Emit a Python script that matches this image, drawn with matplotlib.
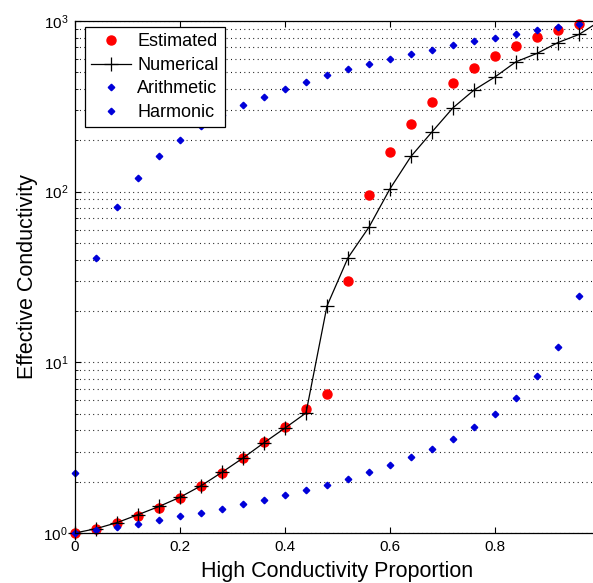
import matplotlib
matplotlib.use('Agg')
import matplotlib.pyplot as plt
from matplotlib.ticker import LogLocator, FixedLocator, NullFormatter

plt.rcParams['font.family'] = ['Liberation Sans', 'DejaVu Sans']
plt.rcParams['mathtext.fontset'] = 'custom'
plt.rcParams['mathtext.rm'] = 'Liberation Sans'
plt.rcParams['mathtext.it'] = 'Liberation Sans:italic'
plt.rcParams['mathtext.default'] = 'regular'

# proportion of high-conductivity material
proportion = [0.00, 0.04, 0.08, 0.12, 0.16, 0.20, 0.24, 0.28, 0.32, 0.36, 0.40, 0.44,
              0.48, 0.52, 0.56, 0.60, 0.64, 0.68, 0.72, 0.76, 0.80, 0.84, 0.88, 0.92, 0.96]
proportion_num = proportion + [1.00]

estimated = [1.00, 1.055, 1.14, 1.26, 1.41, 1.61, 1.88, 2.26, 2.74, 3.40, 4.20, 5.35,
             6.5, 30.0, 95.0, 170.0, 250.0, 336.0, 431.0, 527.0, 620.0, 713.0, 802.0, 885.0, 959.0]
numerical = [1.00, 1.06, 1.15, 1.28, 1.43, 1.62, 1.89, 2.27, 2.75, 3.38, 4.12, 5.05,
             21.4, 41.0, 62.0, 104.0, 161.0, 224.0, 310.0, 394.0, 470.0, 577.0, 646.0, 748.0, 834.0, 1000.0]
arithmetic = [2.25, 41.0, 81.0, 121.0, 161.0, 201.0, 241.0, 281.0, 321.0, 361.0, 401.0, 441.0,
              480.0, 520.0, 560.0, 600.0, 640.0, 680.0, 720.0, 760.0, 800.0, 840.0, 880.0, 920.0, 960.0]
harmonic = [1.00, 1.042, 1.087, 1.136, 1.190, 1.250, 1.315, 1.388, 1.470, 1.562, 1.666, 1.784,
            1.921, 2.081, 2.270, 2.496, 2.773, 3.118, 3.562, 4.154, 4.980, 6.217, 8.273, 12.36, 24.41]

fig = plt.figure(figsize=(5.93, 5.83), dpi=100)
ax = fig.add_axes([75/593, 50/583, 525/593, 512/583])

blue = (0.0, 0.0, 0.85)
ax.plot(proportion, estimated, 'o', color='red', ms=6.5, mec='red', label='Estimated', clip_on=False)
ax.plot(proportion_num, numerical, '-+', color='k', lw=0.9, ms=10, mew=0.9, label='Numerical', clip_on=False)
ax.plot(proportion, arithmetic, 'D', color=blue, ms=3.3, mec=blue, label='Arithmetic', clip_on=False)
ax.plot(proportion, harmonic, 'D', color=blue, ms=3.3, mec=blue, label='Harmonic', clip_on=False)

ax.set_yscale('log')
ax.set_xlim(0, 1)
ax.set_ylim(1, 1000)
ax.xaxis.set_major_locator(FixedLocator([0, 0.2, 0.4, 0.6, 0.8]))
ax.set_xticklabels(['0', '0.2', '0.4', '0.6', '0.8'])
ax.yaxis.set_major_locator(LogLocator(base=10, numticks=10))
ax.yaxis.set_minor_locator(LogLocator(base=10, subs=range(2, 10), numticks=10))
ax.yaxis.set_minor_formatter(NullFormatter())

ax.yaxis.grid(True, which='both', linestyle=(0, (0.8, 3.2)), color='k', lw=0.8)
ax.xaxis.grid(False)
ax.tick_params(which='both', direction='in', top=True, right=True, labelsize=11, pad=5)
ax.tick_params(which='major', length=4, width=0.8)
ax.tick_params(which='minor', length=2.2, width=0.6)
for s in ax.spines.values():
    s.set_linewidth(0.9)

ax.set_xlabel('High Conductivity Proportion', fontsize=15.5, labelpad=5)
ax.set_ylabel('Effective Conductivity', fontsize=15.5, labelpad=4)

leg = ax.legend(loc='upper left', bbox_to_anchor=(0.019, 0.988), borderaxespad=0,
                fontsize=13, fancybox=False, edgecolor='k', framealpha=1,
                handlelength=2.2, handletextpad=0.35, labelspacing=0.36, borderpad=0.35)
leg.get_frame().set_linewidth(0.9)

fig.savefig('out.png', dpi=100)
